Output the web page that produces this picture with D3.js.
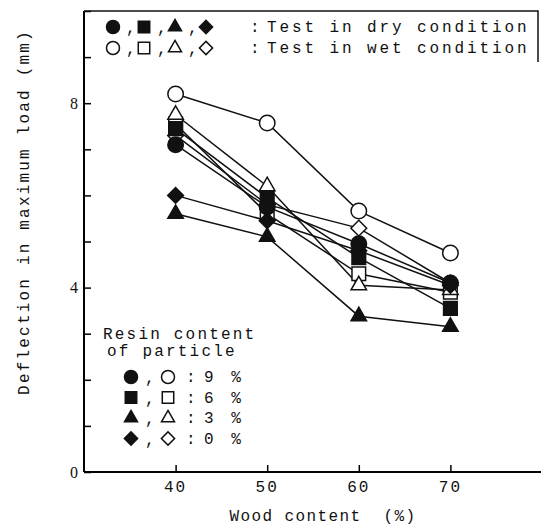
<!DOCTYPE html>
<html><head><meta charset="utf-8">
<script src="https://cdn.jsdelivr.net/npm/d3@7"></script>
<style>
html,body{margin:0;padding:0;background:#fff;}
svg text{font-family:"Liberation Mono","DejaVu Sans Mono",monospace;fill:#111;}
</style></head>
<body><svg id="c" width="541" height="528"></svg>
<script>
const woodContent = [40, 50, 60, 70];
const xTicks = [40, 50, 60, 70];
const yTickLabels = [0, 4, 8];
const yMinorTicks = [0,1,2,3,4,5,6,7,8,9,10];
// Dry condition (filled markers)
const dry9 = [7.1, 5.75, 4.95, 4.1];
const dry6 = [7.45, 5.95, 4.65, 3.55];
const dry3 = [5.6, 5.1, 3.38, 3.15];
const dry0 = [6.0, 5.45, 4.8, 4.05];
// Wet condition (open markers)
const wet9 = [8.2, 7.57, 5.66, 4.75];
const wet6 = [7.55, 5.6, 4.3, 3.9];
const wet3 = [7.75, 6.2, 4.05, 3.95];
const wet0 = [7.3, 5.8, 5.29, 4.1];
const resinLabels = ["9 %", "6 %", "3 %", "0 %"];
const shapes = ["circle", "square", "triangle", "diamond"];

const series = [
  {v: wet0, shape: "diamond", filled: false},
  {v: wet6, shape: "square", filled: false},
  {v: wet3, shape: "triangle", filled: false},
  {v: wet9, shape: "circle", filled: false},
  {v: dry0, shape: "diamond", filled: true},
  {v: dry6, shape: "square", filled: true},
  {v: dry9, shape: "circle", filled: true},
  {v: dry3, shape: "triangle", filled: true}
];

const svg = d3.select("#c");
const x = d3.scaleLinear().domain([30, 80]).range([84, 542]);
const y = d3.scaleLinear().domain([0, 10]).range([472, 11]);

function symPath(shape, s) {
  if (shape === "circle") return d3.symbol(d3.symbolCircle, Math.PI * s * s / 4)();
  if (shape === "square") return d3.symbol(d3.symbolSquare, (s * 0.88) * (s * 0.88))();
  if (shape === "triangle") return d3.symbol(d3.symbolTriangle, Math.sqrt(3) / 4 * s * s)();
  return d3.symbol(d3.symbolSquare, (s * 0.72) * (s * 0.72))();
}
function drawMarker(g, shape, filled, cx, cy, s) {
  g.append("path")
    .attr("d", symPath(shape, s))
    .attr("transform", `translate(${cx},${cy})` + (shape === "diamond" ? " rotate(45)" : ""))
    .attr("fill", filled ? "#111" : "#fff")
    .attr("stroke", "#111")
    .attr("stroke-width", 1.5);
}

// axes
const yAxis = d3.axisRight(y).tickValues(yMinorTicks).tickSize(7).tickFormat("");
const gy = svg.append("g").attr("transform", `translate(${x(30)},0)`).call(yAxis);
gy.select(".domain").attr("stroke-width", 2).attr("d", `M0,${y(10)}V${y(0)}`);
gy.selectAll(".tick line").attr("stroke-width", 1.5);
const yLab = d3.axisLeft(y).tickValues(yTickLabels).tickSize(0).tickPadding(6);
const gyl = svg.append("g").attr("transform", `translate(${x(30)},0)`).call(yLab);
gyl.select(".domain").remove();
gyl.selectAll("text").style("font-size", "16px").style("font-family", "Liberation Serif, serif");

const xAxis = d3.axisTop(x).tickValues(xTicks).tickSize(7).tickFormat("");
const gx = svg.append("g").attr("transform", `translate(0,${y(0)})`).call(xAxis);
gx.select(".domain").attr("stroke-width", 2).attr("d", `M${x(30)},0H${x(80)}`);
gx.selectAll(".tick line").attr("stroke-width", 1.5);
svg.append("g").selectAll("text").data(xTicks).join("text")
  .attr("x", d => x(d)).attr("y", y(0) + 20)
  .attr("text-anchor", "middle").style("font-size", "16px").style("letter-spacing", "2px")
  .text(d => d);

// frame top + right stub of legend box
svg.append("path").attr("d", `M${x(30)},${y(10)}H${x(80) - 4}V62`)
  .attr("fill", "none").attr("stroke", "#111").attr("stroke-width", 1.5);

// titles
svg.append("text").attr("x", 323).attr("y", 521).attr("text-anchor", "middle")
  .style("font-size", "16px").style("letter-spacing", "1.4px").style("white-space", "pre")
  .text("Wood content  (%)");
svg.append("text").attr("transform", "translate(29,212) rotate(-90)").attr("text-anchor", "middle")
  .style("font-size", "16px").style("letter-spacing", "2.2px")
  .text("Deflection in maximum load (mm)");

// lines
const line = d3.line().x((d, i) => x(woodContent[i])).y(d => y(d));
const gl = svg.append("g");
series.forEach(s => {
  gl.append("path").attr("d", line(s.v)).attr("fill", "none")
    .attr("stroke", "#111").attr("stroke-width", 1.5);
});
// markers
const gm = svg.append("g");
series.forEach(s => {
  s.v.forEach((v, i) => drawMarker(gm, s.shape, s.filled, x(woodContent[i]), y(v), 15.5));
});

// top legend
const lg = svg.append("g");
const legRows = [{filled: true, text: "Test in dry condition", yy: 27},
                 {filled: false, text: "Test in wet condition", yy: 48}];
legRows.forEach(r => {
  shapes.forEach((sh, i) => {
    drawMarker(lg, sh, r.filled, 113 + i * 31, r.yy, 13);
    if (i < 3) lg.append("text").attr("x", 126 + i * 31).attr("y", r.yy + 6).style("font-size", "16px").text(",");
  });
  lg.append("text").attr("x", 250).attr("y", r.yy + 5).style("font-size", "16px").text(":");
  lg.append("text").attr("x", 267).attr("y", r.yy + 5).style("font-size", "16px")
    .style("letter-spacing", "2.9px").text(r.text);
});

// resin legend
const rg = svg.append("g");
rg.append("text").attr("x", 103).attr("y", 339).style("font-size", "16px").style("letter-spacing", "2.2px").text("Resin content");
rg.append("text").attr("x", 107).attr("y", 356).style("font-size", "16px").style("letter-spacing", "2.2px").text("of particle");
shapes.forEach((sh, i) => {
  const yy = 377 + i * 20.5;
  drawMarker(rg, sh, true, 131, yy, 13);
  rg.append("text").attr("x", 145).attr("y", yy + 6).style("font-size", "16px").text(",");
  drawMarker(rg, sh, false, 168, yy, 13);
  rg.append("text").attr("x", 186).attr("y", yy + 5).style("font-size", "16px").text(":");
  rg.append("text").attr("x", 204).attr("y", yy + 5).style("font-size", "16px").style("letter-spacing", "4px").text(resinLabels[i]);
});
</script></body></html>
